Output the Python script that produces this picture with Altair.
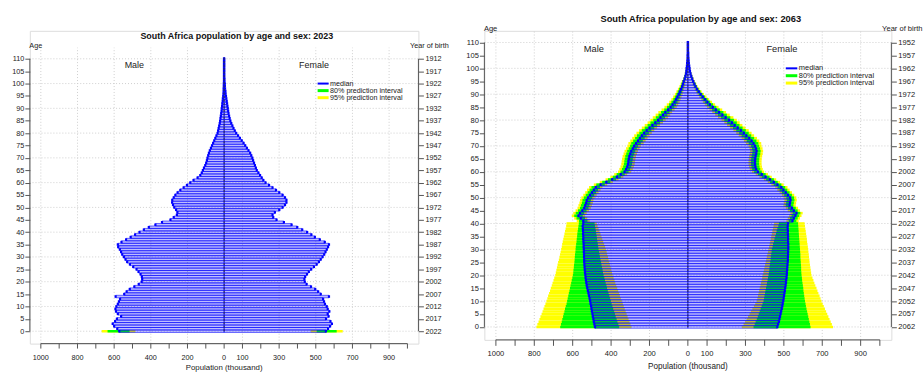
import altair as alt
import pandas as pd

FONT = "Liberation Sans"
AXC = "#555555"
TXT = "#222222"
GRIDC = "#cfcfcf"
BLUE = "#0000ff"
GREEN = "#00ff00"
YELLOW = "#ffff00"

AGES = list(range(111))
X_TICKS = list(range(-1000, 1001, 100))
X_LABELS = ["1000", "", "800", "", "600", "", "400", "", "200", "", "0",
            "100", "", "300", "", "500", "", "700", "", "900", ""]
Y_TICKS = list(range(0, 111, 5))
GRID_X = [-1000, -800, -600, -400, -200, 100, 300, 500, 700, 900]
GRID_Y = list(range(0, 111, 10))
BIRTH_REF = {"2023": 2022, "2063": 2062}
LEGEND_LABELS = ["median", "80% prediction interval", "95% prediction interval"]
LEGEND_COLORS = [BLUE, GREEN, YELLOW]

# ---------- 2023 (thousand) ----------
M2023 = [572, 583, 600, 608, 595, 585, 562, 580, 590, 593,
         588, 580, 574, 568, 592, 545, 532, 515, 490, 466,
         450, 447, 449, 456, 467, 478, 496, 514, 529, 538,
         547, 556, 562, 569, 578, 580, 560, 535, 510, 486,
         462, 438, 411, 375, 339, 293, 275, 258, 255, 262,
         272, 279, 284, 283, 275, 266, 254, 239, 221, 203,
         185, 167, 145, 130, 122, 116, 110, 103, 98, 94,
         91, 87, 83, 78, 72, 66, 60, 54, 48, 42,
         36, 33, 30, 27, 24, 22, 20, 18, 16, 14,
         13, 11, 10, 8, 7, 5, 4, 3, 3, 2,
         2, 1, 1, 1, 1, 1, 1, 1, 1, 1, 1]
F2023 = [555, 567, 578, 588, 580, 556, 570, 565, 574, 565,
         560, 550, 545, 540, 572, 527, 513, 497, 474, 450,
         440, 438, 442, 452, 462, 475, 490, 505, 517, 527,
         537, 546, 553, 560, 567, 572, 549, 522, 495, 476,
         453, 426, 399, 368, 326, 286, 268, 264, 277, 301,
         319, 332, 340, 340, 332, 319, 301, 283, 264, 245,
         226, 214, 205, 196, 187, 178, 173, 168, 163, 158,
         154, 148, 142, 133, 124, 115, 106, 96, 86, 76,
         66, 58, 51, 45, 39, 34, 30, 27, 24, 22,
         20, 18, 16, 14, 12, 10, 8, 7, 5, 4,
         4, 2, 2, 1, 1, 1, 1, 1, 1, 1, 1]
IV2023_AGES = [0]
M2023_LO95 = [484]
M2023_LO80 = [516]
M2023_HI80 = [636]
M2023_HI95 = [668]
F2023_LO95 = [473]
F2023_LO80 = [505]
F2023_HI80 = [614]
F2023_HI95 = [647]

# ---------- 2063 (thousand) ----------
M2063 = [484, 487, 490, 492, 495, 497, 500, 502, 504, 507,
         509, 512, 515, 518, 521, 524, 527, 529, 531, 533,
         534, 536, 537, 538, 539, 540, 540, 541, 541, 542,
         542, 543, 543, 544, 545, 545, 546, 546, 547, 548, 545] + \
        [545, 558, 570, 562, 550, 540, 535, 530, 527, 520,
         510, 500, 490, 480, 455, 425, 395, 370, 350, 330,
         322, 316, 312, 310, 308, 305, 300, 295, 287, 280,
         270, 260, 250, 240, 228, 215, 200, 185, 170, 155,
         143, 130, 118, 103, 90, 80, 70, 62, 55, 48,
         42, 36, 30, 26, 22, 17, 13, 10, 8, 7,
         5, 4, 3, 2, 2, 1, 1, 1, 1, 1]
M2063_LO95 = [294, 299, 304, 309, 314, 319, 324, 329, 334, 339,
              344, 349, 354, 358, 363, 368, 373, 378, 382, 387,
              392, 395, 399, 402, 406, 409, 413, 416, 420, 423,
              427, 431, 436, 441, 446, 450, 455, 460, 465, 470, 474] + \
             [511, 524, 535, 527, 515, 505, 500, 495, 492, 485,
              475, 465, 455, 445, 420, 391, 361, 336, 316, 296,
              287, 281, 277, 275, 273, 270, 265, 260, 252, 245,
              230, 220, 210, 200, 188, 175, 160, 145, 130, 115,
              103, 92, 82, 69, 58, 50, 43, 38, 33, 28,
              24, 20, 16, 14, 12, 9, 6, 4, 3, 3,
              2, 2, 1, 1, 1, 1, 1, 1, 1, 1]
M2063_LO80 = [358, 362, 367, 371, 376, 380, 384, 389, 393, 397,
              401, 405, 409, 413, 417, 421, 424, 428, 432, 435,
              439, 442, 444, 447, 450, 452, 455, 458, 460, 463,
              465, 467, 469, 471, 473, 475, 477, 479, 481, 484, 486] + \
             [523, 536, 548, 540, 528, 518, 513, 508, 505, 498,
              488, 478, 468, 458, 433, 404, 374, 349, 329, 309,
              301, 295, 291, 289, 287, 284, 279, 274, 266, 259,
              245, 235, 225, 215, 203, 190, 175, 160, 145, 130,
              119, 107, 96, 83, 71, 62, 54, 48, 42, 36,
              31, 26, 22, 19, 16, 12, 9, 6, 5, 5,
              3, 3, 2, 1, 1, 1, 1, 1, 1, 1]
M2063_HI80 = [665, 661, 657, 654, 650, 647, 643, 640, 636, 632,
              629, 626, 623, 620, 617, 614, 611, 608, 605, 602,
              599, 597, 596, 594, 593, 591, 590, 589, 588, 586,
              585, 584, 582, 580, 579, 577, 576, 574, 572, 570, 568] + \
             [567, 580, 592, 584, 572, 562, 557, 552, 549, 542,
              532, 522, 512, 502, 477, 446, 416, 391, 371, 351,
              343, 337, 333, 331, 329, 326, 321, 316, 308, 301,
              295, 285, 275, 265, 253, 240, 225, 210, 195, 180,
              167, 153, 140, 123, 109, 98, 86, 76, 68, 60,
              53, 46, 38, 33, 28, 22, 17, 14, 11, 9,
              7, 5, 4, 3, 3, 1, 1, 1, 1, 1]
M2063_HI95 = [789, 784, 778, 773, 768, 762, 757, 752, 747, 742,
              737, 732, 728, 723, 718, 714, 709, 705, 700, 696,
              691, 688, 685, 682, 679, 676, 672, 669, 666, 663,
              660, 657, 655, 652, 649, 646, 643, 640, 637, 634, 632] + \
             [579, 592, 605, 597, 585, 575, 570, 565, 562, 555,
              545, 535, 525, 515, 490, 459, 429, 404, 384, 364,
              357, 351, 347, 345, 343, 340, 335, 330, 322, 315,
              310, 300, 290, 280, 268, 255, 240, 225, 210, 195,
              183, 168, 154, 137, 122, 110, 97, 86, 77, 68,
              60, 52, 44, 38, 32, 25, 20, 16, 13, 11,
              8, 6, 5, 3, 3, 1, 1, 1, 1, 1]

F2063 = [466, 470, 474, 477, 480, 483, 486, 489, 492, 494,
         497, 499, 501, 503, 505, 507, 509, 511, 512, 514,
         515, 516, 517, 518, 519, 520, 521, 521, 522, 522,
         523, 523, 523, 522, 522, 522, 521, 521, 520, 520, 522] + \
        [545, 552, 560, 566, 552, 542, 530, 532, 535, 533,
         522, 510, 498, 487, 467, 448, 428, 405, 385, 365,
         356, 352, 350, 350, 351, 353, 356, 358, 355, 350,
         342, 332, 320, 305, 292, 277, 260, 244, 230, 215,
         197, 180, 163, 146, 130, 115, 102, 90, 78, 67,
         57, 48, 40, 34, 28, 23, 18, 14, 11, 9,
         7, 5, 4, 3, 2, 2, 1, 1, 1, 1]
F2063_LO95 = [282, 290, 298, 306, 313, 321, 328, 336, 344, 351,
              359, 362, 365, 368, 371, 374, 378, 381, 384, 387,
              390, 393, 396, 399, 402, 405, 408, 411, 414, 417,
              420, 423, 426, 429, 432, 434, 437, 440, 443, 446, 449] + \
             [513, 520, 528, 534, 520, 510, 498, 500, 503, 501,
              490, 478, 466, 455, 435, 416, 396, 373, 353, 333,
              322, 318, 316, 316, 317, 319, 322, 324, 321, 316,
              302, 292, 280, 265, 252, 237, 220, 204, 190, 175,
              157, 142, 127, 113, 100, 88, 78, 69, 59, 50,
              42, 35, 29, 24, 20, 16, 12, 9, 7, 6,
              5, 3, 2, 1, 1, 1, 1, 1, 1, 1]
F2063_LO80 = [342, 348, 353, 359, 364, 369, 374, 379, 384, 389,
              394, 397, 399, 402, 404, 407, 410, 412, 415, 417,
              420, 422, 424, 425, 427, 429, 431, 432, 434, 436,
              437, 441, 444, 448, 451, 455, 459, 462, 466, 471, 474] + \
             [525, 532, 540, 546, 532, 522, 510, 512, 515, 513,
              502, 490, 478, 467, 447, 428, 408, 385, 365, 345,
              335, 331, 329, 329, 330, 332, 335, 337, 334, 329,
              317, 307, 295, 280, 267, 252, 235, 219, 205, 190,
              173, 157, 141, 126, 112, 99, 88, 77, 67, 57,
              48, 40, 33, 28, 23, 19, 14, 11, 9, 7,
              6, 4, 3, 2, 1, 1, 1, 1, 1, 1]
F2063_HI80 = [639, 636, 633, 630, 627, 624, 621, 618, 615, 613,
              610, 608, 606, 604, 602, 601, 599, 597, 595, 594,
              592, 591, 590, 590, 589, 588, 587, 586, 586, 585,
              584, 583, 582, 581, 580, 579, 578, 577, 576, 575, 574] + \
             [565, 572, 580, 586, 572, 562, 550, 552, 555, 553,
              542, 530, 518, 507, 487, 468, 448, 425, 405, 385,
              377, 373, 371, 371, 372, 374, 377, 379, 376, 371,
              367, 357, 345, 330, 317, 302, 285, 269, 255, 240,
              221, 203, 185, 166, 148, 131, 116, 103, 89, 77,
              66, 56, 47, 40, 33, 27, 22, 17, 13, 11,
              8, 6, 5, 4, 3, 3, 1, 1, 1, 1]
F2063_HI95 = [756, 750, 744, 738, 732, 726, 720, 714, 708, 702,
              696, 691, 686, 680, 675, 670, 664, 659, 654, 649,
              644, 642, 640, 638, 636, 634, 633, 631, 630, 628,
              627, 625, 623, 621, 620, 618, 616, 614, 612, 610, 608] + \
             [577, 584, 592, 598, 584, 574, 562, 564, 567, 565,
              554, 542, 530, 519, 499, 480, 460, 437, 417, 397,
              390, 386, 384, 384, 385, 387, 390, 392, 389, 384,
              382, 372, 360, 345, 332, 317, 300, 284, 270, 255,
              237, 218, 199, 179, 160, 142, 126, 111, 97, 84,
              72, 61, 51, 44, 36, 30, 24, 19, 15, 12,
              9, 7, 6, 5, 3, 3, 1, 1, 1, 1]

for _l in (M2023, F2023, M2063, F2063, M2063_LO95, M2063_LO80, M2063_HI80, M2063_HI95,
           F2063_LO95, F2063_LO80, F2063_HI80, F2063_HI95):
    assert len(_l) == 111, len(_l)


def bars_df(male, female):
    recs = []
    for a, m, f in zip(AGES, male, female):
        recs.append({"y0": a - 0.5, "y1": a + 0.5, "x0": 0, "x1": -m})
        recs.append({"y0": a - 0.5, "y1": a + 0.5, "x0": 0, "x1": f})
    return pd.DataFrame(recs)


def iv_df(ages, mlo, mhi, flo, fhi):
    recs = []
    for a, ml, mh, fl, fh in zip(ages, mlo, mhi, flo, fhi):
        recs.append({"y0": a - 0.5, "y1": a + 0.5, "x0": -mh, "x1": -ml})
        recs.append({"y0": a - 0.5, "y1": a + 0.5, "x0": fl, "x1": fh})
    return pd.DataFrame(recs)


def panel(year, male, female, iv95, iv80, g):
    W, H, ytop, k = g["W"], g["H"], g["ytop"], g["k"]
    fs = 7.3 * k
    xs = alt.Scale(domain=[-1060, 1060], nice=False, zero=False)
    ys = alt.Scale(domain=[-5, ytop], nice=False, zero=False)

    def X(f):
        return alt.X(f, type="quantitative", scale=xs, axis=None)

    def Y(f):
        return alt.Y(f, type="quantitative", scale=ys, axis=None)

    yleft = alt.Axis(orient="left", values=Y_TICKS, domain=False, grid=False, tickSize=5,
                     tickColor=AXC, labelFont=FONT, labelFontSize=fs, labelColor=TXT,
                     labelPadding=1, labelOverlap=False, labelFlush=False, title=None)
    ref = BIRTH_REF[year]
    yright = alt.Axis(orient="right", values=Y_TICKS, domain=False, grid=False, tickSize=5,
                      tickColor=AXC, labelFont=FONT, labelFontSize=fs, labelColor=TXT,
                      labelPadding=1.5, labelOverlap=False, labelFlush=False, title=None,
                      labelExpr=f"format({ref} - datum.value, 'd')")

    grid_v = alt.Chart(pd.DataFrame({"gx": GRID_X, "g0": [-5] * len(GRID_X),
                                     "g1": [114.5] * len(GRID_X)})).mark_rule(
        color=GRIDC, strokeDash=[1, 2], strokeWidth=1).encode(
        x=X("gx:Q"), y=Y("g0:Q"), y2=alt.Y2("g1"))
    grid_h = alt.Chart(pd.DataFrame({"gy": GRID_Y})).mark_rule(
        color=GRIDC, strokeDash=[1, 2], strokeWidth=1).encode(
        y=alt.Y("gy:Q", scale=ys, axis=yleft))

    r95 = alt.Chart(iv95).mark_rect(color=YELLOW, strokeWidth=0).encode(
        x=X("x0:Q"), x2=alt.X2("x1"), y=Y("y0:Q"), y2=alt.Y2("y1"))
    r80 = alt.Chart(iv80).mark_rect(color=GREEN, strokeWidth=0).encode(
        x=X("x0:Q"), x2=alt.X2("x1"), y=Y("y0:Q"), y2=alt.Y2("y1"))

    bd = bars_df(male, female)
    bars = alt.Chart(bd).mark_rect(fill=BLUE, fillOpacity=0.26, stroke=BLUE,
                                   strokeWidth=0.55).encode(
        x=X("x0:Q"), x2=alt.X2("x1"), y=Y("y0:Q"), y2=alt.Y2("y1"))
    ends = alt.Chart(bd).mark_rule(color=BLUE, strokeWidth=2.2).encode(
        x=X("x1:Q"), y=Y("y0:Q"), y2=alt.Y2("y1"))

    center = alt.Chart(pd.DataFrame({"c": [0], "a0": [0], "a1": [110.5]})).mark_rule(
        color="#333333", strokeDash=[2, 1.5], strokeWidth=1).encode(
        x=X("c:Q"), y=alt.Y("a0:Q", scale=ys, axis=yright), y2=alt.Y2("a1"))

    # axis lines (R style: span only the tick range)
    ax_b = alt.Chart(pd.DataFrame({"xa": [-1000], "xb": [1000]})).mark_rule(
        color=AXC, strokeWidth=1).encode(x=X("xa:Q"), x2=alt.X2("xb"), y=alt.value(H))
    ax_l = alt.Chart(pd.DataFrame({"ya": [0], "yb": [110]})).mark_rule(
        color=AXC, strokeWidth=1).encode(x=alt.value(0), y=Y("ya:Q"), y2=alt.Y2("yb"))
    ax_r = alt.Chart(pd.DataFrame({"ya": [0], "yb": [110]})).mark_rule(
        color=AXC, strokeWidth=1).encode(x=alt.value(W), y=Y("ya:Q"), y2=alt.Y2("yb"))

    xt = pd.DataFrame({"tv": X_TICKS, "tl": X_LABELS})
    x_ticks = alt.Chart(xt).mark_rule(color=AXC, strokeWidth=1).encode(
        x=X("tv:Q"), y=alt.value(H), y2=alt.value(H + g["xtick"]))
    x_labels = alt.Chart(xt).mark_text(font=FONT, fontSize=fs, color=TXT,
                                       baseline="middle").encode(
        x=X("tv:Q"), y=alt.value(H + 14 * k), text="tl:N")
    x_title = alt.Chart(pd.DataFrame({"t": ["Population (thousand)"]})).mark_text(
        font=FONT, fontSize=7.9 * k, color=TXT, baseline="middle").encode(
        x=alt.value(W / 2), y=alt.value(H + g["xt"]), text="t:N")

    sex = alt.Chart(pd.DataFrame({"tx": [-490, 490], "ty": [107.5, 107.5],
                                  "t": ["Male", "Female"]})).mark_text(
        font=FONT, fontSize=9 * k, color=TXT, baseline="middle").encode(
        x=X("tx:Q"), y=Y("ty:Q"), text="t:N")

    leg = pd.DataFrame({"lx0": [510] * 3, "lx1": [570] * 3, "ltx": [578] * 3,
                        "ly": [100, 97.15, 94.3], "lab": LEGEND_LABELS,
                        "col": LEGEND_COLORS, "sw": [2.0, 3.0, 3.0]})
    leg_l = alt.Chart(leg).mark_rule().encode(
        x=X("lx0:Q"), x2=alt.X2("lx1"), y=Y("ly:Q"),
        color=alt.Color("col:N", scale=None), strokeWidth=alt.StrokeWidth("sw:Q", scale=None))
    leg_t = alt.Chart(leg).mark_text(font=FONT, fontSize=7.2 * k, color=TXT, align="left",
                                     baseline="middle").encode(
        x=X("ltx:Q"), y=Y("ly:Q"), text="lab:N")

    one = pd.DataFrame({"t": [f"South Africa population by age and sex: {year}"]})
    title = alt.Chart(one).mark_text(font=FONT, fontSize=9 * k, fontWeight="bold",
                                     color="#111111", baseline="middle").encode(
        x=alt.value(g["tx"]), y=alt.value(g["ty"]), text="t:N")
    age_t = alt.Chart(pd.DataFrame({"t": ["Age"]})).mark_text(
        font=FONT, fontSize=fs, color=TXT, align="left", baseline="middle").encode(
        x=alt.value(-0.5), y=alt.value(g["ay"]), text="t:N")
    yob_t = alt.Chart(pd.DataFrame({"t": ["Year of birth"]})).mark_text(
        font=FONT, fontSize=fs, color=TXT, align="center", baseline="middle").encode(
        x=alt.value(W + 11), y=alt.value(g["ay"]), text="t:N")
    extent = alt.Chart(pd.DataFrame({"t": [0]})).mark_rule(color="white", strokeWidth=1).encode(
        x=alt.value(g["ex0"]), x2=alt.value(g["ex1"]), y=alt.value(-28.3))

    return alt.layer(grid_v, grid_h, r95, r80, bars, ends, center, ax_b, ax_l, ax_r,
                     x_ticks, x_labels, x_title, sex, leg_l, leg_t, title, age_t, yob_t,
                     extent).resolve_axis(y="independent").properties(width=W, height=H)


G_LEFT = {"W": 390.7, "H": 314.45, "ytop": 121.29, "k": 1.0, "xtick": 5, "xt": 24.3,
          "tx": 208.1, "ty": 5.0, "ay": 15.2, "ex0": -28.6, "ex1": 429.4}
G_RIGHT = {"W": 409.2, "H": 310.7, "ytop": 114.5, "k": 1.04, "xtick": 6, "xt": 27.5,
           "tx": 217.6, "ty": -12.3, "ay": -1.8, "ex0": -22.4, "ex1": 0}

left = panel("2023", M2023, F2023,
             iv_df(IV2023_AGES, M2023_LO95, M2023_HI95, F2023_LO95, F2023_HI95),
             iv_df(IV2023_AGES, M2023_LO80, M2023_HI80, F2023_LO80, F2023_HI80), G_LEFT)
right = panel("2063", M2063, F2063,
              iv_df(AGES, M2063_LO95, M2063_HI95, F2063_LO95, F2063_HI95),
              iv_df(AGES, M2063_LO80, M2063_HI80, F2063_LO80, F2063_HI80), G_RIGHT)

chart = alt.hconcat(left, right, spacing=2).properties(padding=0).configure_view(
    stroke=None).configure(background="white")

chart.save("out.html", embed_options={"renderer": "svg", "actions": False})
